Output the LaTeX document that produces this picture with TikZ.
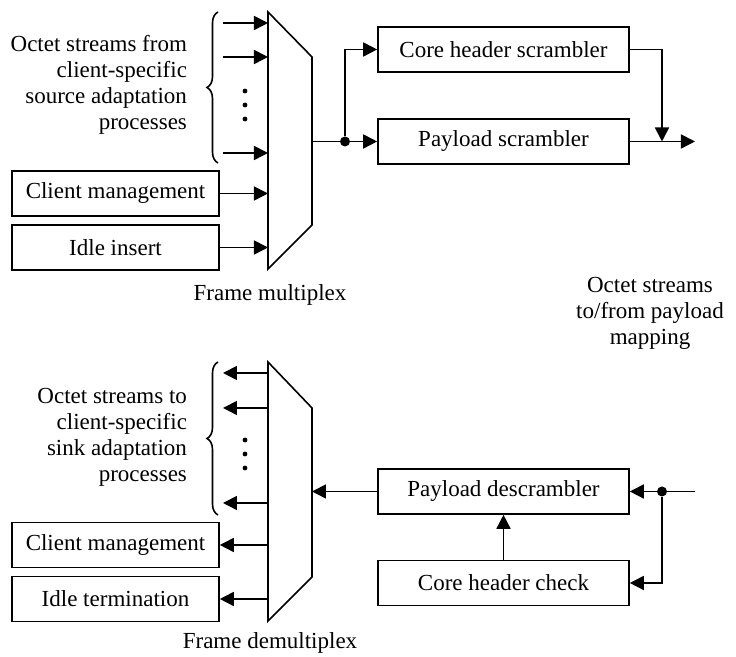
\documentclass[tikz,border=0pt]{standalone}
\usepackage{fontspec}
\setmainfont{Liberation Serif}
\usetikzlibrary{arrows.meta, decorations.pathreplacing}

\begin{document}
\begin{tikzpicture}[x=0.5pt, y=0.5pt, font=\fontsize{11.5}{13}\selectfont,
    line/.style={line width=0.8pt},
    box/.style={draw, line, minimum height=22.5pt, inner sep=0pt},
    wide/.style={box, minimum width=125.5pt},
    side/.style={box, minimum width=103.5pt},
    arr/.style={line, -{Triangle[length=7pt,width=7pt]}},
    dot/.style={circle, fill, inner sep=0pt, minimum size=5pt},
    pt/.style={circle, fill, inner sep=0pt, minimum size=2.4pt},
    curly/.style={line, decorate, decoration={brace, amplitude=5.5pt}}]

    \useasboundingbox (0,0) rectangle (736,657);

    % frame multiplex
    \draw[line] (268,645) -- (312,600) -- (312,432) -- (268,388) -- cycle;
    \coordinate (muxl) at (268,0);
    \foreach \y [count=\i] in {634,600,504}
    {
    \coordinate (src\i) at (223,\y);
    \draw[arr] (src\i) -- (src\i -| muxl);
    }
    \foreach \y in {566,552,538}
    {
    \node[pt] at (245,\y) {};
    }
    \draw[curly] (218,494) -- (218,645);
    \node[align=right, anchor=east] (srctxt) at (194,572) {Octet streams from\\client-specific\\source adaptation\\processes};
    \node[side] (cm1) at (115.5,463.5) {Client management};
    \node[side] (ii) at (115.5,409.5) {Idle insert};
    \draw[arr] (cm1.east) -- (cm1.east -| muxl);
    \draw[arr] (ii.east) -- (ii.east -| muxl);
    \node (fm) at (270,362) {Frame multiplex};

    % scramblers
    \node[wide] (chs) at (503.5,607.5) {Core header scrambler};
    \node[wide] (ps) at (503.5,515.5) {Payload scrambler};
    \coordinate (muxo) at (312,515.5);
    \node[dot] (d1) at (345,515.5) {};
    \draw[line] (muxo) -- (d1);
    \draw[arr] (d1) -- (ps);
    \draw[arr] (d1) |- (chs);
    \coordinate (join) at (662,515.5);
    \coordinate (out1) at (695,515.5);
    \draw[arr] (chs.east) -| (join);
    \draw[arr] (ps) -- (out1);

    \node[align=center] (osm) at (650,344) {Octet streams\\to/from payload\\mapping};

    % frame demultiplex
    \draw[line] (268,295) -- (312,249) -- (312,80) -- (268,36) -- cycle;
    \coordinate (demuxl) at (268,0);
    \foreach \y [count=\i] in {284,249,154}
    {
    \coordinate (snk\i) at (223,\y);
    \draw[arr] (snk\i -| demuxl) -- (snk\i);
    }
    \foreach \y in {217,203,189}
    {
    \node[pt] at (245,\y) {};
    }
    \draw[curly] (218,142) -- (218,295);
    \node[align=right, anchor=east] (snktxt) at (194,220) {Octet streams to\\client-specific\\sink adaptation\\processes};
    \node[side] (cm2) at (115.5,112) {Client management};
    \node[side] (it) at (115.5,58) {Idle termination};
    \draw[arr] (cm2.east -| demuxl) -- (cm2.east);
    \draw[arr] (it.east -| demuxl) -- (it.east);
    \node (fd) at (270,14) {Frame demultiplex};

    % descramblers
    \node[wide] (pd) at (503.5,165.5) {Payload descrambler};
    \node[wide] (chc) at (503.5,74) {Core header check};
    \coordinate (demuxr) at (312,165.5);
    \draw[arr] (pd) -- (demuxr);
    \draw[arr] (chc) -- (pd);
    \node[dot] (d2) at (662,165.5) {};
    \coordinate (in2) at (695,165.5);
    \draw[line] (in2) -- (d2);
    \draw[arr] (d2) -- (pd);
    \draw[arr] (d2) |- (chc);
\end{tikzpicture}
\end{document}
